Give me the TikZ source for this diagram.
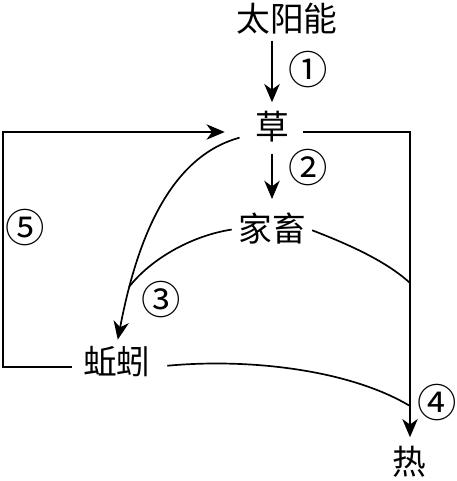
\documentclass[tikz,border=0pt]{standalone}
\usepackage{fontspec}
\setmainfont{Noto Sans CJK SC}
\usetikzlibrary{arrows.meta}

\tikzset{
  every node/.style={inner sep=2pt, font=\fontsize{24}{24}\selectfont},
  num/.style={font=\fontsize{28}{28}\selectfont},
  flow/.style={very thick, -{Stealth[length=13pt,width=11pt,inset=4pt]}},
  line/.style={very thick},
}

\begin{document}
\begin{tikzpicture}[x=0.025cm, y=-0.025cm]
\useasboundingbox (0,0) rectangle (456,481);

\node (sun) at (287,19) {太阳能};
\node (grass) at (272,127) {草};
\node (stock) at (272,229) {家畜};
\node (worm) at (117,362) {蚯蚓};
\node (heat) at (409,462) {热};

\node[num] (n1) at (308,70) {①};
\node[num] (n2) at (308,168) {②};
\node[num] (n3) at (161,300) {③};
\node[num] (n4) at (437,403) {④};
\node[num] (n5) at (25,228) {⑤};

\coordinate (lt) at (3,132);
\coordinate (lb) at (3,367);
\coordinate (rt) at (410,132);
\coordinate (rmid) at (410,283);
\coordinate (rlow) at (410,406);
\coordinate (lmid) at (129,287);

\draw[flow, shorten <=2.3pt, shorten >=4.4pt] (grass.north |- sun.south) -- (grass.north);
\draw[flow, shorten <=5.8pt, shorten >=8pt] (grass.south) -- (stock.north);

% loop back to the grass
\draw[flow, shorten <=6pt, shorten >=19.4pt] (worm.west |- lb) -- (lb) -- (lt) -- (grass.west |- lt);
\draw[flow, shorten <=8pt, shorten >=4.3pt] (grass.east |- rt) -- (rt) -- (heat.north -| rt);

\draw[flow, shorten <=9.2pt, shorten >=2.9pt] (grass.200) .. controls (165,158) and (135,250) .. (worm.north);
\draw[line, shorten <=2.5pt] (stock.west) .. controls (190,236) and (150,260) .. (lmid);
\draw[line, shorten <=2.5pt] (stock.east) .. controls (345,243) and (385,260) .. (rmid);
\draw[line, shorten <=9.6pt] (worm.east |- lb) .. controls (250,358) and (350,370) .. (rlow);
\end{tikzpicture}
\end{document}
